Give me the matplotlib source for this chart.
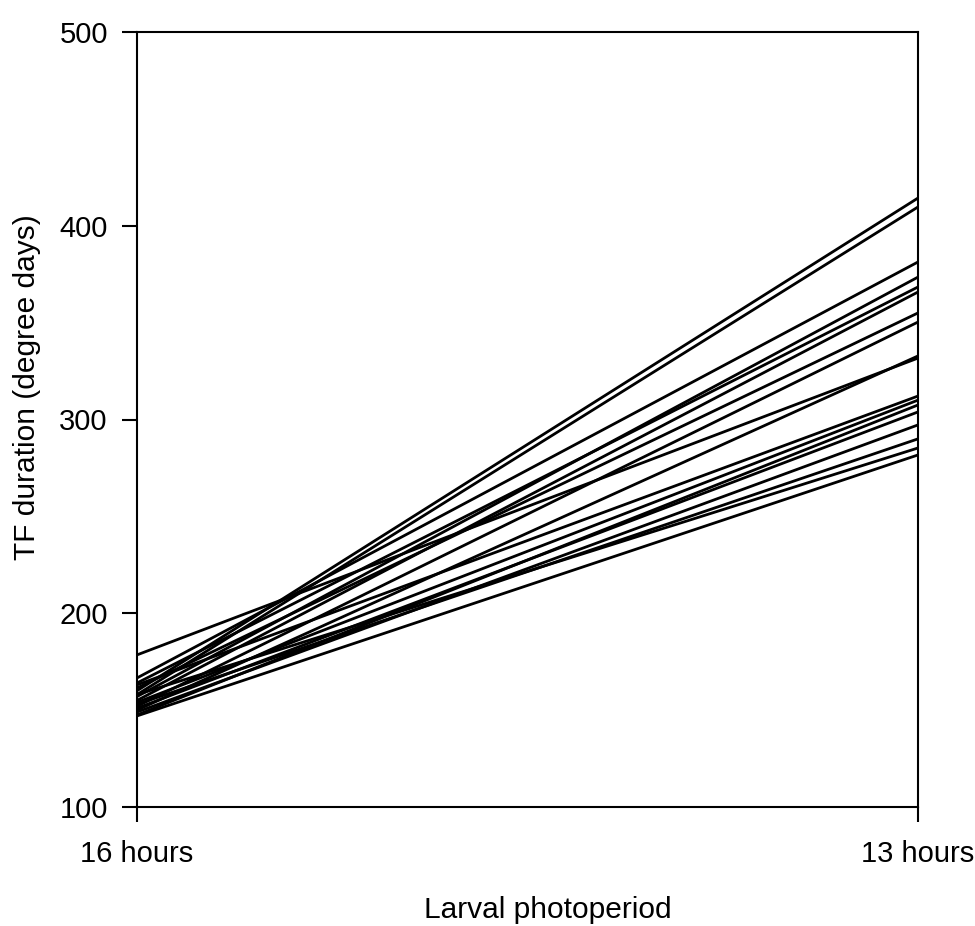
import numpy as np
import matplotlib.pyplot as plt

plt.rcParams['font.family'] = ['Liberation Sans', 'DejaVu Sans']

# photoperiod categories on the x axis
photoperiods = ['16 hours', '13 hours']

# TF duration (degree days) for each line
tf_16h = [178.5, 160.0, 158.0, 166.6, 157.0, 164.0, 155.0, 161.4, 152.0,
          150.0, 163.0, 154.0, 147.5, 151.0, 149.0, 158.0, 147.0, 153.0]
tf_13h = [331.7, 414.3, 409.7, 381.3, 373.5, 368.4, 365.8, 355.0, 350.3,
          332.8, 312.1, 310.0, 307.5, 303.9, 297.2, 285.3, 281.7, 290.0]

yticks = [100, 200, 300, 400, 500]

fig = plt.figure(figsize=(9.75, 9.26), dpi=100)
ax = fig.add_axes([137 / 975, 1 - 807 / 926, (918 - 137) / 975, (807 - 32) / 926])

xpos = np.arange(len(photoperiods))
for a, b in zip(tf_16h, tf_13h):
    ax.plot(xpos, [a, b], color='black', lw=2.0, solid_capstyle='round')

ax.set_xlim(0, 1)
ax.set_ylim(100, 500)
ax.set_xticks(xpos)
ax.set_xticklabels(photoperiods)
ax.set_yticks(yticks)

for s in ax.spines.values():
    s.set_linewidth(1.5)
ax.tick_params(axis='both', direction='out', length=11, width=1.5,
               labelsize=21, pad=10)
ax.tick_params(axis='x', pad=13)

ax.set_xlabel('Larval photoperiod', fontsize=21.5, labelpad=20)
ax.xaxis.label.set_x(0.526)
ax.set_ylabel('TF duration (degree days)', fontsize=21.5, labelpad=13)
ax.yaxis.label.set_y(0.542)

fig.savefig('out.png', dpi=100)
